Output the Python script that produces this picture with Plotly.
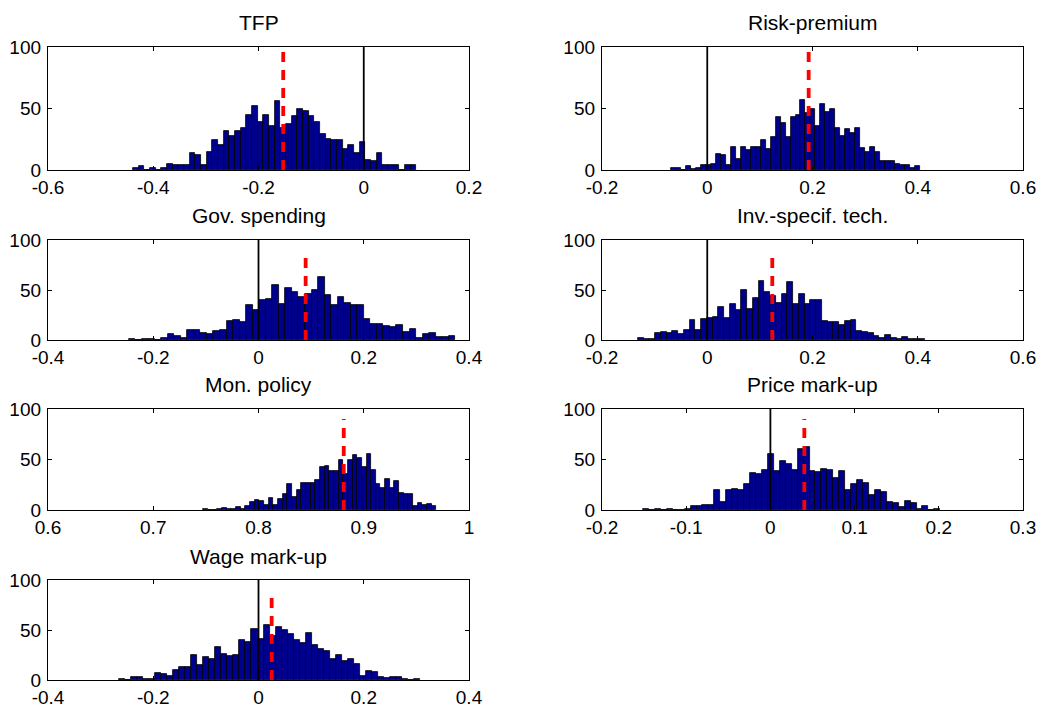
import numpy as np
import plotly.graph_objects as go

# ---- data ----
titles = ["TFP", "Risk-premium", "Gov. spending", "Inv.-specif. tech.",
          "Mon. policy", "Price mark-up", "Wage mark-up"]

# histogram bin range (lowest edge, highest edge), 50 bins each
bin_lo = [-0.4387, -0.068, -0.247, -0.1316, 0.7477, -0.1513, -0.2646]
bin_hi = [0.1002, 0.4035, 0.374, 0.4143, 0.969, 0.2018, 0.3065]

counts_tfp = [2, 3, 0, 2, 0, 2, 5, 4, 4, 4, 14, 12, 4, 15, 24, 20, 32, 28, 32, 34,
              45, 52, 39, 45, 36, 56, 34, 37, 44, 50, 48, 44, 39, 29, 25, 24, 24, 17, 20, 14,
              23, 8, 7, 14, 4, 4, 4, 0, 4, 4]
counts_risk = [2, 2, 0, 3, 1, 2, 4, 4, 5, 13, 12, 4, 19, 9, 19, 16, 19, 19, 24, 17,
               27, 43, 38, 27, 43, 45, 57, 46, 50, 36, 54, 47, 50, 34, 28, 33, 30, 34, 18, 15,
               19, 15, 7, 7, 7, 5, 4, 4, 2, 3]
counts_gov = [1, 0, 1, 1, 0, 2, 6, 4, 2, 10, 10, 7, 6, 9, 10, 19, 20, 18, 35, 30,
              40, 41, 55, 36, 52, 48, 43, 46, 50, 63, 45, 35, 43, 37, 35, 35, 21, 16, 16, 14,
              13, 15, 8, 11, 2, 6, 7, 3, 3, 4]
counts_inv = [2, 1, 1, 7, 8, 7, 9, 6, 10, 20, 10, 21, 22, 23, 33, 22, 36, 30, 50, 31,
              42, 59, 48, 44, 37, 46, 58, 36, 46, 36, 40, 40, 19, 18, 18, 15, 19, 20, 9, 8,
              7, 4, 2, 5, 2, 1, 3, 1, 1, 1]
counts_mon = [1, 0, 0, 1, 2, 1, 1, 3, 1, 4, 8, 10, 9, 5, 12, 5, 11, 16, 26, 13,
              20, 27, 27, 27, 30, 43, 44, 39, 39, 50, 36, 50, 54, 51, 43, 55, 40, 26, 22, 31,
              22, 29, 17, 16, 16, 4, 7, 5, 6, 4]
counts_price = [1, 0, 1, 0, 1, 0, 0, 1, 4, 4, 5, 5, 20, 8, 20, 21, 20, 26, 37, 36,
                40, 55, 39, 49, 46, 40, 60, 62, 39, 38, 41, 40, 32, 39, 20, 26, 30, 27, 15, 20,
                18, 8, 7, 3, 9, 7, 1, 4, 0, 1]
counts_wage = [1, 0, 3, 3, 1, 1, 7, 6, 4, 10, 13, 13, 25, 15, 23, 21, 33, 26, 24, 25,
               40, 38, 51, 41, 55, 44, 53, 50, 46, 40, 37, 47, 35, 31, 29, 21, 25, 19, 21, 16,
               4, 9, 8, 3, 2, 3, 3, 1, 0, 1]
counts = [counts_tfp, counts_risk, counts_gov, counts_inv, counts_mon, counts_price, counts_wage]

red_line = [-0.153, 0.1927, 0.0896, 0.1236, 0.881, 0.0403, 0.025]
red_top = [100, 100, 90, 90, 90, 90, 90]
black_line = [0.0, 0.0, 0.0, 0.0, None, 0.0, 0.0]

x_ranges = [(-0.6, 0.2), (-0.2, 0.6), (-0.4, 0.4), (-0.2, 0.6), (0.6, 1.0), (-0.2, 0.3), (-0.4, 0.4)]
x_ticks = [[-0.6, -0.4, -0.2, 0, 0.2], [-0.2, 0, 0.2, 0.4, 0.6], [-0.4, -0.2, 0, 0.2, 0.4],
           [-0.2, 0, 0.2, 0.4, 0.6], [0.6, 0.7, 0.8, 0.9, 1.0], [-0.2, -0.1, 0, 0.1, 0.2, 0.3],
           [-0.4, -0.2, 0, 0.2, 0.4]]
x_ticktext = [["-0.6", "-0.4", "-0.2", "0", "0.2"], ["-0.2", "0", "0.2", "0.4", "0.6"],
              ["-0.4", "-0.2", "0", "0.2", "0.4"], ["-0.2", "0", "0.2", "0.4", "0.6"],
              ["0.6", "0.7", "0.8", "0.9", "1"], ["-0.2", "-0.1", "0", "0.1", "0.2", "0.3"],
              ["-0.4", "-0.2", "0", "0.2", "0.4"]]
y_ticks = [0, 50, 100]

# ---- layout geometry (pixels) ----
W, H = 1043, 708
col_px = [(48, 469), (602, 1023)]
row_px = [(47, 170), (240, 340), (409, 510), (580, 680)]

fig = go.Figure()
FONT = "Liberation Sans, Arial, sans-serif"
annotations = []
layout_axes = {}

for k in range(7):
    r, c = divmod(k, 2)
    n = len(counts[k])
    edges = np.linspace(bin_lo[k], bin_hi[k], n + 1)
    centers = (edges[:-1] + edges[1:]) / 2
    width = edges[1] - edges[0]
    xa = "x" if k == 0 else f"x{k+1}"
    ya = "y" if k == 0 else f"y{k+1}"
    fig.add_trace(go.Bar(x=centers, y=counts[k], width=width, xaxis=xa, yaxis=ya,
                         marker=dict(color="rgb(0,0,143)", line=dict(color="black", width=0.8)),
                         showlegend=False, hoverinfo="skip"))
    if black_line[k] is not None:
        fig.add_trace(go.Scatter(x=[black_line[k], black_line[k]], y=[0, 100], mode="lines",
                                 xaxis=xa, yaxis=ya, line=dict(color="black", width=1.8),
                                 showlegend=False, hoverinfo="skip"))
    fig.add_trace(go.Scatter(x=[red_line[k], red_line[k]], y=[0, red_top[k]], mode="lines",
                             xaxis=xa, yaxis=ya, line=dict(color="red", width=3.8, dash="10px,8px"),
                             showlegend=False, hoverinfo="skip"))

    x0, x1 = col_px[c]
    t, b = row_px[r]
    xdom = [x0 / W, x1 / W]
    ydom = [1 - b / H, 1 - t / H]
    lo, hi = x_ranges[k]
    eps = 1e-6
    axis_common = dict(showline=True, mirror="ticks", linecolor="black", linewidth=1.3,
                       ticks="inside", ticklen=4, tickcolor="black", tickwidth=1,
                       showgrid=False, zeroline=False, automargin=False,
                       tickfont=dict(family=FONT, size=19, color="black"))
    layout_axes["xaxis" if k == 0 else f"xaxis{k+1}"] = dict(
        domain=xdom, anchor=ya, range=[lo - eps, hi + eps], tickmode="array",
        tickvals=x_ticks[k], ticktext=x_ticktext[k], **axis_common)
    layout_axes["yaxis" if k == 0 else f"yaxis{k+1}"] = dict(
        domain=ydom, anchor=xa, range=[0, 100 + 1e-6], tickmode="array",
        tickvals=y_ticks, ticktext=["0", "50", "100"], ticklabelstandoff=2, **axis_common)
    annotations.append(dict(text=titles[k], xref="paper", yref="paper",
                            x=(xdom[0] + xdom[1]) / 2, y=ydom[1] + 24 / H,
                            xanchor="center", yanchor="middle", showarrow=False,
                            font=dict(family=FONT, size=21, color="black")))

fig.update_layout(template="none", width=W, height=H, margin=dict(l=0, r=0, t=0, b=0),
                  paper_bgcolor="white", plot_bgcolor="white", bargap=0,
                  annotations=annotations, **layout_axes)

fig.write_html("out.html")
